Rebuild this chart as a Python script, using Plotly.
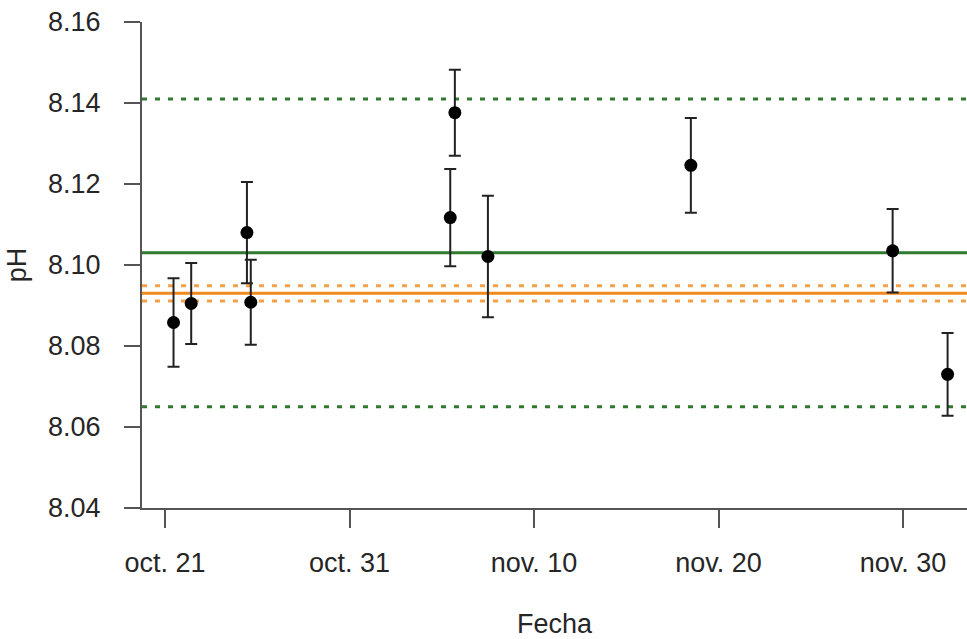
import plotly.graph_objects as go

# Data
fechas = ["2022-10-21 11:00", "2022-10-22 10:00", "2022-10-25 10:30", "2022-10-25 15:30",
          "2022-11-05 11:00", "2022-11-05 17:00", "2022-11-07 12:00", "2022-11-18 12:00",
          "2022-11-29 10:30", "2022-12-02 10:00"]
ph = [8.0858, 8.0905, 8.1080, 8.0908, 8.1117, 8.1376, 8.1021, 8.1246, 8.1035, 8.0730]
ph_err = [0.0109, 0.0100, 0.0125, 0.0105, 0.0120, 0.0106, 0.0150, 0.0117, 0.0103, 0.0102]

green_mean = 8.1030
green_limits = [8.1410, 8.0650]
orange_mean = 8.0930
orange_limits = [8.0949, 8.0911]

tick_vals = ["2022-10-21", "2022-10-31", "2022-11-10", "2022-11-20", "2022-11-30"]
tick_text = ["oct. 21", "oct. 31", "nov. 10", "nov. 20", "nov. 30"]
x_range = ["2022-10-19 18:00", "2022-12-03 11:15"]
y_range = [8.04, 8.16]

GREEN = "#2f7a2f"
ORANGE = "#f08a1c"
ORANGE_LIGHT = "#f3a24a"
AXIS = "#555555"
TXT = "#262626"
FONT = "Liberation Sans, Arial, sans-serif"

fig = go.Figure()

def hline(y, color, dash, width=3):
    fig.add_shape(type="line", xref="paper", x0=0, x1=1, yref="y", y0=y, y1=y,
                  line=dict(color=color, width=width, dash=dash), layer="below")

for v in orange_limits:
    hline(v, ORANGE_LIGHT, "5px,8px", 3)
hline(orange_mean, ORANGE, "solid", 3)
for v in green_limits:
    hline(v, GREEN, "5px,8px", 3)
hline(green_mean, GREEN, "solid", 3)

fig.add_trace(go.Scatter(
    x=fechas, y=ph, mode="markers",
    marker=dict(color="black", size=13),
    error_y=dict(type="data", array=ph_err, visible=True, color="#222222",
                 thickness=2, width=6),
    showlegend=False,
))

fig.update_layout(
    width=967, height=639,
    margin=dict(l=142, r=0, t=22, b=131),
    paper_bgcolor="white", plot_bgcolor="white",
    font=dict(family=FONT, size=27, color=TXT),
    xaxis=dict(
        range=x_range, type="date",
        tickmode="array", tickvals=tick_vals, ticktext=tick_text,
        showgrid=False, zeroline=False,
        showline=True, linecolor=AXIS, linewidth=2,
        ticks="outside", ticklen=18, tickwidth=2, tickcolor=AXIS,
        ticklabelstandoff=12,
        tickfont=dict(size=27, color=TXT),
        title=dict(text="Fecha", standoff=42, font=dict(size=27, color=TXT)),
    ),
    yaxis=dict(
        range=y_range,
        tickmode="array", tickvals=[8.04, 8.06, 8.08, 8.10, 8.12, 8.14, 8.16],
        ticktext=["8.04", "8.06", "8.08", "8.10", "8.12", "8.14", "8.16"],
        showgrid=False, zeroline=False,
        showline=True, linecolor=AXIS, linewidth=2,
        ticks="outside", ticklen=16, tickwidth=2, tickcolor=AXIS,
        ticklabelstandoff=18,
        tickfont=dict(size=27, color=TXT),
        title=dict(text="pH", standoff=14, font=dict(size=27, color=TXT)),
    ),
)

fig.write_html("out.html")
